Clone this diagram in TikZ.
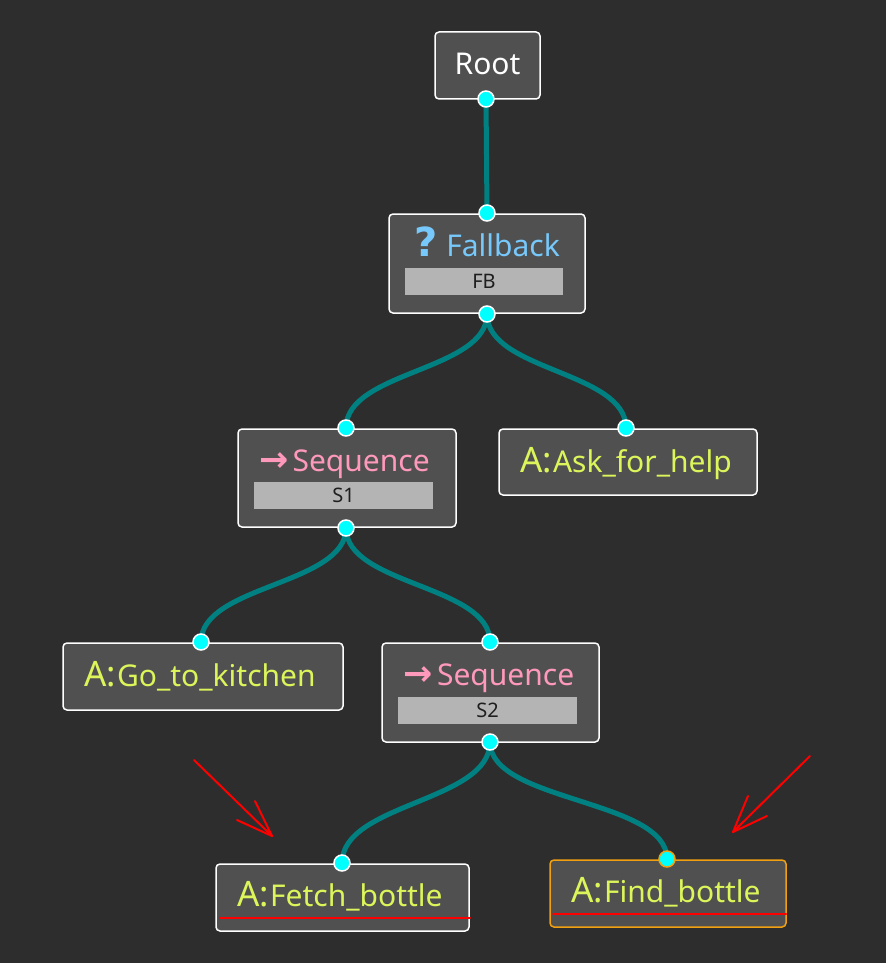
\documentclass[tikz,border=0pt]{standalone}
\usepackage{fontspec}
\setmainfont{Noto Sans}
\newfontfamily\symfont{DejaVu Sans}
\usetikzlibrary{positioning}
\usetikzlibrary{arrows.meta}
\definecolor{canvasbg}{HTML}{2D2D2D}
\definecolor{nodefill}{HTML}{505050}
\definecolor{barfill}{HTML}{B4B4B4}
\definecolor{bartext}{HTML}{1E1E1E}
\definecolor{linkteal}{HTML}{008080}
\definecolor{portcyan}{HTML}{00FFFF}
\definecolor{fbblue}{HTML}{77C8FB}
\definecolor{seqpink}{HTML}{FF99BB}
\definecolor{actyellow}{HTML}{DCF55A}
\definecolor{runorange}{HTML}{F0A010}
\newcommand{\actionA}{{\fontsize{35}{38}\selectfont A:}\hspace{1pt}}
\newcommand{\fbicon}{{\symfont\bfseries\fontsize{40}{40}\selectfont ?}\hspace{9pt}}
\newcommand{\seqicon}{{\symfont\bfseries\fontsize{35}{35}\selectfont →}\hspace{4pt}}
\tikzset{%
    treebox/.style={rectangle, draw=white, line width=1.5pt, rounded corners=4pt, fill=nodefill, inner sep=0pt},
    running/.style={draw=runorange},
    label/.style={inner sep=0pt, anchor=base, font=\fontsize{30}{33}\selectfont},
    idbar/.style={rectangle, fill=barfill, inner sep=0pt, minimum height=27pt, text=bartext, font=\fontsize{20}{22}\selectfont},
    port/.style={circle, draw=white, fill=portcyan, line width=1.5pt, minimum size=16pt, inner sep=0pt},
    link/.style={draw=linkteal, line width=5pt},
    redpen/.style={draw=red, line width=2pt, line cap=round}
}
\begin{document}
\begin{tikzpicture}[x=1pt, y=-1pt]
    \fill[canvasbg] (0,0) rectangle (886,963);
    \useasboundingbox (0,0) rectangle (886,963);

    % tree nodes
    \node[treebox, minimum width=105pt, minimum height=67pt] (root) at (487.5,65.5) {};
    \node[label, text=white] (root-txt) at (487.5,75) {Root};

    \node[treebox, minimum width=196pt, minimum height=99pt] (fb) at (487,263.5) {};
    \node[label, text=fbblue] (fb-txt) at (487,256) {\fbicon Fallback};
    \node[idbar, minimum width=158pt] (fb-id) at (484,281.5) {FB};

    \node[treebox, minimum width=218pt, minimum height=98pt] (s1) at (347,478) {};
    \node[label, text=seqpink] (s1-txt) at (344.5,471) {\seqicon Sequence};
    \node[idbar, minimum width=179pt] (s1-id) at (343.5,495.5) {S1};

    \node[treebox, minimum width=258pt, minimum height=66pt] (ask) at (628,462) {};
    \node[label, text=actyellow] (ask-txt) at (626,472) {\actionA Ask\_for\_help};

    \node[treebox, minimum width=280pt, minimum height=67pt] (go) at (203,676.5) {};
    \node[label, text=actyellow] (go-txt) at (200,686) {\actionA Go\_to\_kitchen};

    \node[treebox, minimum width=217pt, minimum height=99pt] (s2) at (490.5,692.5) {};
    \node[label, text=seqpink] (s2-txt) at (489,685) {\seqicon Sequence};
    \node[idbar, minimum width=179pt] (s2-id) at (487.5,710) {S2};

    \node[treebox, minimum width=253pt, minimum height=67pt] (fetch) at (342.5,897.5) {};
    \node[label, text=actyellow] (fetch-txt) at (340,906) {\actionA Fetch\_bottle};

    \node[treebox, running, minimum width=236pt, minimum height=67pt] (find) at (668,893.5) {};
    \node[label, text=actyellow] (find-txt) at (666,902) {\actionA Find\_bottle};

    % ports
    \coordinate (root-out) at (486,99);
    \coordinate (fb-in) at (487,213);
    \coordinate (fb-out) at (487,314);
    \coordinate (s1-in) at (346,428);
    \coordinate (s1-out) at (346,528);
    \coordinate (ask-in) at (626,428);
    \coordinate (go-in) at (201,642);
    \coordinate (s2-in) at (490,642);
    \coordinate (s2-out) at (490,742);
    \coordinate (fetch-in) at (342,863);
    \coordinate (find-in) at (667,859);

    % links
    \draw[link] (root-out) -- (fb-in);
    \draw[link] (fb-out) .. controls +(0,57) and +(0,-57) .. (s1-in);
    \draw[link] (fb-out) .. controls +(0,57) and +(0,-57) .. (ask-in);
    \draw[link] (s1-out) .. controls +(0,57) and +(0,-57) .. (go-in);
    \draw[link] (s1-out) .. controls +(0,57) and +(0,-57) .. (s2-in);
    \draw[link] (s2-out) .. controls +(0,60) and +(0,-60) .. (fetch-in);
    \draw[link] (s2-out) .. controls +(0,60) and +(0,-60) .. (find-in);

    \foreach \p in {root-out, fb-in, fb-out, s1-in, s1-out, ask-in, go-in, s2-in, s2-out, fetch-in}
        \node[port] (\p-dot) at (\p) {};
    \node[port, draw=runorange] (find-in-dot) at (find-in) {};

    % red marks
    \coordinate (la-tail) at (194,760);
    \coordinate (la-tip) at (272,836);
    \coordinate (ra-tail) at (810,756);
    \coordinate (ra-tip) at (733,832);
    \draw[redpen] (la-tail) -- (la-tip);
    \draw[redpen] (la-tip) -- +(-17,-35);
    \draw[redpen] (la-tip) -- +(-35,-16);
    \draw[redpen] (ra-tail) -- (ra-tip);
    \draw[redpen] (ra-tip) -- +(15,-36);
    \draw[redpen] (ra-tip) -- +(34,-16);
    \draw[redpen] (220,918) -- (470,918);
    \draw[redpen] (553,914) -- (786,914);
\end{tikzpicture}
\end{document}
